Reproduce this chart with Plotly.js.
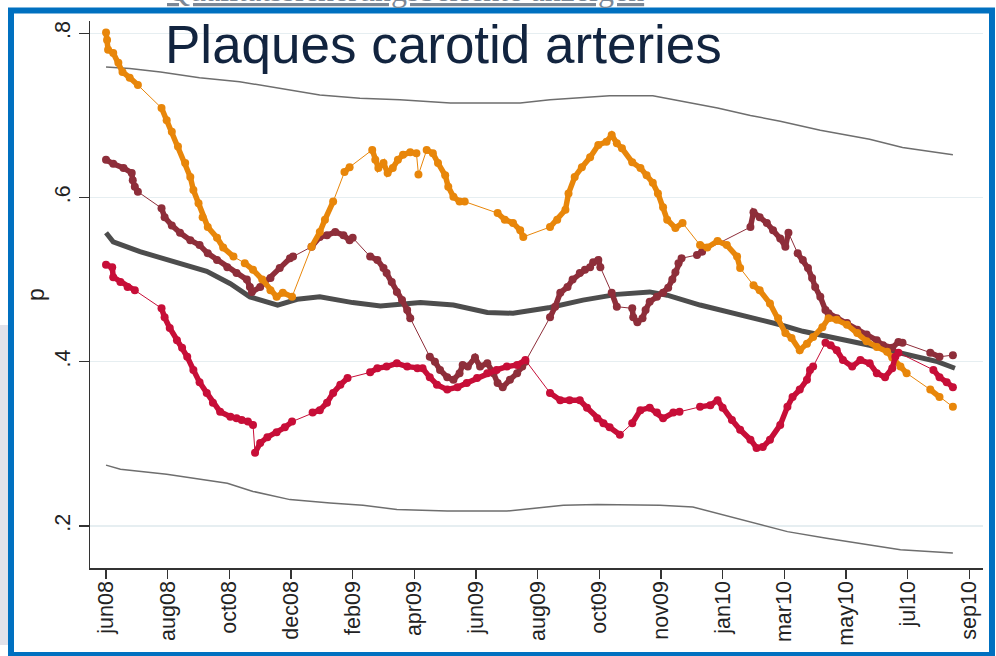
<!DOCTYPE html>
<html>
<head>
<meta charset="utf-8">
<script src="https://cdn.plot.ly/plotly-3.0.1.min.js"></script>
<style>html,body{margin:0;padding:0;background:#fff;}#chart{width:996px;height:656px;}</style>
</head>
<body>
<div id="chart"></div>
<script>
// x = days since first tick (jun08); ticks every 60 days
const tickDays = [0,60,120,180,240,300,360,420,480,540,600,660,720,780,840];
const tickLabels = ["jun08","aug08","oct08","dec08","feb09","apr09","jun09","aug09","oct09","nov09","jan10","mar10","may10","jul10","sep10"];
const yTickVals = [0.2,0.4,0.6,0.8];
const yTickText = [".2",".4",".6",".8"];

// upper / lower control limits
const uclDays = [0,23,53,91,130,169,208,247,286,335,364,403,432,464,490,532,561,595,627,656,695,743,775,824];
const uclP = [0.759,0.757,0.753,0.746,0.741,0.733,0.725,0.721,0.719,0.715,0.715,0.715,0.719,0.722,0.724,0.724,0.717,0.709,0.700,0.693,0.682,0.671,0.661,0.652];
const lclDays = [0,14,59,118,143,179,218,250,283,332,390,445,478,539,571,604,636,663,701,734,773,824];
const lclP = [0.274,0.269,0.263,0.252,0.242,0.232,0.228,0.225,0.220,0.218,0.218,0.225,0.226,0.225,0.223,0.212,0.202,0.193,0.185,0.179,0.171,0.167];

// overall mean
const meanDays = [0,7,33,65,98,121,140,167,186,208,240,267,306,338,371,396,432,464,497,529,546,578,610,639,656,678,711,743,775,809,826];
const meanP = [0.557,0.546,0.534,0.522,0.510,0.495,0.479,0.469,0.476,0.479,0.472,0.468,0.472,0.469,0.460,0.459,0.466,0.475,0.482,0.485,0.481,0.469,0.459,0.451,0.445,0.437,0.429,0.420,0.410,0.400,0.392];

// orange series
const orangeDays = [0,1,2,7,12,16,23,31,54,59,64,70,77,82,85,90,94,99,108,114,124,135,143,152,160,166,172,181,200,208,213,221,232,237,259,262,265,270,274,279,284,289,296,302,304,312,318,323,330,333,338,344,349,381,388,396,403,406,432,439,447,450,456,463,471,479,487,492,497,502,512,520,526,532,537,542,546,554,561,578,585,595,604,614,617,630,636,646,654,661,667,675,682,688,697,703,711,721,731,740,750,760,765,773,779,802,811,824];
const orangeP = [0.801,0.792,0.780,0.776,0.764,0.753,0.746,0.737,0.709,0.694,0.680,0.662,0.642,0.625,0.609,0.593,0.576,0.564,0.551,0.539,0.528,0.520,0.512,0.500,0.487,0.479,0.484,0.479,0.540,0.558,0.573,0.595,0.631,0.637,0.658,0.646,0.636,0.642,0.630,0.636,0.646,0.652,0.655,0.654,0.628,0.658,0.654,0.642,0.627,0.613,0.601,0.595,0.595,0.581,0.573,0.569,0.560,0.552,0.564,0.573,0.585,0.605,0.625,0.637,0.649,0.664,0.668,0.676,0.666,0.660,0.643,0.636,0.627,0.618,0.605,0.588,0.573,0.563,0.569,0.542,0.539,0.547,0.542,0.528,0.514,0.493,0.487,0.471,0.453,0.435,0.429,0.414,0.422,0.430,0.442,0.453,0.451,0.445,0.435,0.425,0.418,0.412,0.405,0.394,0.386,0.366,0.357,0.345];

// brown series
const brownDays = [0,7,17,25,26,28,31,54,57,64,72,82,91,99,108,118,127,137,140,142,150,160,169,179,182,200,208,215,223,231,237,240,257,264,270,273,278,283,288,293,296,315,320,325,332,338,344,347,352,359,364,371,377,381,386,393,400,405,408,432,437,442,449,454,461,466,471,474,479,481,492,497,512,513,517,522,525,529,536,542,547,551,554,557,560,575,580,627,630,636,643,649,656,661,664,673,678,683,687,690,695,700,703,711,721,731,740,750,756,765,771,775,802,811,824];
const brownP = [0.646,0.641,0.636,0.630,0.621,0.613,0.607,0.587,0.576,0.566,0.557,0.548,0.542,0.532,0.524,0.515,0.508,0.500,0.491,0.485,0.491,0.502,0.514,0.526,0.528,0.540,0.552,0.554,0.558,0.554,0.548,0.551,0.528,0.524,0.514,0.508,0.497,0.485,0.475,0.463,0.453,0.406,0.400,0.390,0.381,0.378,0.386,0.396,0.394,0.405,0.394,0.398,0.386,0.374,0.369,0.378,0.386,0.394,0.400,0.454,0.467,0.484,0.491,0.500,0.508,0.512,0.515,0.521,0.524,0.515,0.484,0.467,0.465,0.454,0.448,0.453,0.463,0.473,0.479,0.484,0.490,0.500,0.509,0.520,0.526,0.530,0.534,0.564,0.582,0.576,0.569,0.560,0.550,0.540,0.557,0.532,0.524,0.514,0.502,0.491,0.479,0.463,0.459,0.453,0.447,0.439,0.433,0.426,0.420,0.417,0.424,0.423,0.411,0.406,0.408];

// crimson series
const redDays = [0,6,7,14,21,28,54,57,62,69,74,79,85,91,98,104,111,121,127,132,138,143,145,150,157,166,174,181,201,208,215,221,228,235,257,264,273,283,293,303,308,315,322,332,342,351,361,371,380,390,400,408,432,442,451,461,468,478,484,490,500,512,520,529,536,542,552,558,578,588,595,600,609,617,627,633,639,646,656,663,668,675,682,685,688,700,705,711,717,726,734,743,750,758,765,768,771,805,811,818,824];
const redP = [0.518,0.515,0.503,0.497,0.491,0.487,0.465,0.454,0.441,0.426,0.417,0.406,0.390,0.375,0.362,0.350,0.339,0.333,0.331,0.329,0.327,0.323,0.289,0.301,0.308,0.314,0.320,0.327,0.338,0.341,0.350,0.362,0.372,0.380,0.387,0.392,0.394,0.398,0.394,0.392,0.392,0.381,0.372,0.366,0.369,0.374,0.380,0.386,0.390,0.394,0.396,0.402,0.362,0.353,0.353,0.353,0.344,0.331,0.325,0.320,0.311,0.325,0.341,0.344,0.338,0.331,0.338,0.339,0.345,0.347,0.353,0.344,0.329,0.317,0.305,0.295,0.296,0.305,0.323,0.345,0.357,0.366,0.378,0.390,0.394,0.423,0.420,0.414,0.402,0.394,0.402,0.398,0.386,0.381,0.392,0.406,0.411,0.390,0.381,0.375,0.369];

const ORANGE = "#E8860A", BROWN = "#8E2E3A", RED = "#C70E38";

// dense runs of observations are drawn as a band; sparse stretches as a thin connector
function bands(x, y) {
  const bx = [], by = [];
  for (let i = 0; i < x.length; i++) {
    if (i > 0 && (x[i] - x[i-1] > 10 || Math.abs(y[i] - y[i-1]) > 0.023)) { bx.push(null); by.push(null); }
    bx.push(x[i]); by.push(y[i]);
  }
  return {bx, by};
}

function seriesTraces(x, y, color) {
  const b = bands(x, y);
  return [
    {x: x, y: y, type: "scatter", mode: "lines", line: {color: color, width: 1}, hoverinfo: "skip"},
    {x: b.bx, y: b.by, type: "scatter", mode: "lines+markers", connectgaps: false,
     line: {color: color, width: 5.5}, marker: {color: color, size: 8}, hoverinfo: "skip"}
  ];
}

const traces = [
  {x: uclDays, y: uclP, type: "scatter", mode: "lines", line: {color: "#6E6E6E", width: 1.5}, hoverinfo: "skip"},
  {x: lclDays, y: lclP, type: "scatter", mode: "lines", line: {color: "#6E6E6E", width: 1.5}, hoverinfo: "skip"},
  {x: meanDays, y: meanP, type: "scatter", mode: "lines", line: {color: "#4D4D4D", width: 5}, hoverinfo: "skip"}
].concat(seriesTraces(brownDays, brownP, BROWN))
 .concat(seriesTraces(orangeDays, orangeP, ORANGE))
 .concat(seriesTraces(redDays, redP, RED));

const tickFont = {family: "'Liberation Sans', Arial, sans-serif", size: 21.5, color: "#222"};

// pixel -> paper helpers for decorative frame
const PL = 90, PR = 983, PT = 21, PB = 568;
const px = v => (v - PL) / (PR - PL);
const py = v => (PB - v) / (PB - PT);

const layout = {
  width: 996, height: 656,
  margin: {l: PL, r: 996 - PR, t: PT, b: 656 - PB},
  paper_bgcolor: "#fff", plot_bgcolor: "#fff",
  showlegend: false,
  title: {
    text: "Plaques carotid arteries",
    font: {family: "'Liberation Sans', Arial, sans-serif", size: 53, color: "#12243F"},
    xref: "container", yref: "container", x: 165/996, xanchor: "left", y: 1 - 63/656, yanchor: "bottom"
  },
  xaxis: {
    range: [-15.6, 853.3], tickmode: "array", tickvals: tickDays, ticktext: tickLabels,
    tickangle: -90, ticks: "outside", ticklen: 9, tickwidth: 1.5, tickcolor: "#333",
    showline: true, linecolor: "#333", linewidth: 1.5, showgrid: false, zeroline: false,
    tickfont: tickFont, ticklabelstandoff: -6
  },
  yaxis: {
    range: [0.1487, 0.815], tickmode: "array", tickvals: yTickVals, ticktext: yTickText,
    tickangle: -90, ticks: "outside", ticklen: 10, tickwidth: 1.5, tickcolor: "#333",
    showline: true, linecolor: "#333", linewidth: 1.5, showgrid: true, gridcolor: "#E6EEF1", gridwidth: 1.5,
    zeroline: false, tickfont: tickFont,
    title: {text: "p", font: {family: "'Liberation Sans', Arial, sans-serif", size: 23, color: "#222"}, standoff: 0}
  },
  shapes: [
    {type: "rect", xref: "paper", yref: "paper", layer: "below",
     x0: px(0), x1: px(8), y0: py(645), y1: py(325), fillcolor: "#E2E2EA", line: {width: 0}},
    {type: "rect", xref: "paper", yref: "paper", layer: "above",
     x0: px(11), x1: px(992), y0: py(655), y1: py(10.5), fillcolor: "rgba(0,0,0,0)", line: {color: "#0070C0", width: 6}}
  ],
  annotations: [
    {text: "<u>Qualitätssicherungsberichte anzeigen</u>", xref: "paper", yref: "paper",
     x: px(165), y: py(10), xanchor: "left", yanchor: "bottom", showarrow: false,
     font: {family: "'Liberation Serif', serif", size: 32, color: "#7C8896"}}
  ]
};

Plotly.newPlot("chart", traces, layout, {staticPlot: true, displayModeBar: false});
</script>
</body>
</html>
